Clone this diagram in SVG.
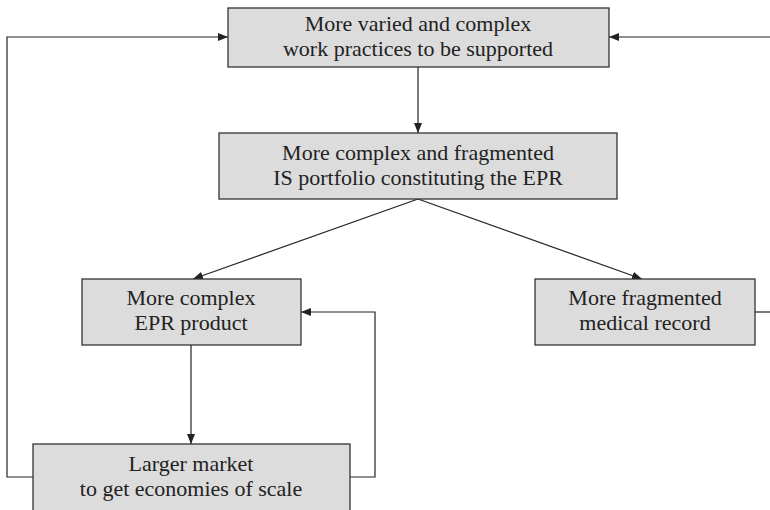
<svg xmlns="http://www.w3.org/2000/svg" width="770" height="510" viewBox="0 0 770 510">
  <style>
    .box { fill: #dcdcdc; stroke: #333; stroke-width: 1.3; }
    .lbl { font-family: "Liberation Serif", "DejaVu Serif", serif; font-size: 22px; fill: #222; text-anchor: middle; }
    .wire { fill: none; stroke: #222; stroke-width: 1.2; }
  </style>
  <defs>
    <marker id="arrow" viewBox="0 0 10 8" refX="10" refY="4" markerWidth="10" markerHeight="8" markerUnits="userSpaceOnUse" orient="auto">
      <path d="M0,0 L10,4 L0,8 Z" fill="#222"/>
    </marker>
  </defs>

  <g id="connectors">
    <path class="wire" d="M418,67 V133" marker-end="url(#arrow)"/>
    <path class="wire" d="M418,199 L193,279" marker-end="url(#arrow)"/>
    <path class="wire" d="M418,199 L642,279" marker-end="url(#arrow)"/>
    <path class="wire" d="M191,345 V444" marker-end="url(#arrow)"/>
    <path class="wire" d="M33,477 H7 V37 H228" marker-end="url(#arrow)"/>
    <path class="wire" d="M350,477 H375 V312 H301" marker-end="url(#arrow)"/>
    <path class="wire" d="M755,312 H770"/>
    <path class="wire" d="M770,37 H609" marker-end="url(#arrow)"/>
  </g>

  <g id="work-practices">
    <rect class="box" x="228" y="8" width="381" height="59"/>
    <text class="lbl" x="418" y="31">More varied and complex</text>
    <text class="lbl" x="418" y="56">work practices to be supported</text>
  </g>

  <g id="is-portfolio">
    <rect class="box" x="219" y="133" width="398" height="66"/>
    <text class="lbl" x="418" y="160">More complex and fragmented</text>
    <text class="lbl" x="418" y="185">IS portfolio constituting the EPR</text>
  </g>

  <g id="epr-product">
    <rect class="box" x="82" y="279" width="219" height="66"/>
    <text class="lbl" x="191" y="305">More complex</text>
    <text class="lbl" x="191" y="330">EPR product</text>
  </g>

  <g id="medical-record">
    <rect class="box" x="535" y="279" width="220" height="66"/>
    <text class="lbl" x="645" y="305">More fragmented</text>
    <text class="lbl" x="645" y="330">medical record</text>
  </g>

  <g id="larger-market">
    <rect class="box" x="33" y="444" width="317" height="80"/>
    <text class="lbl" x="191" y="471">Larger market</text>
    <text class="lbl" x="191" y="496">to get economies of scale</text>
  </g>
</svg>
